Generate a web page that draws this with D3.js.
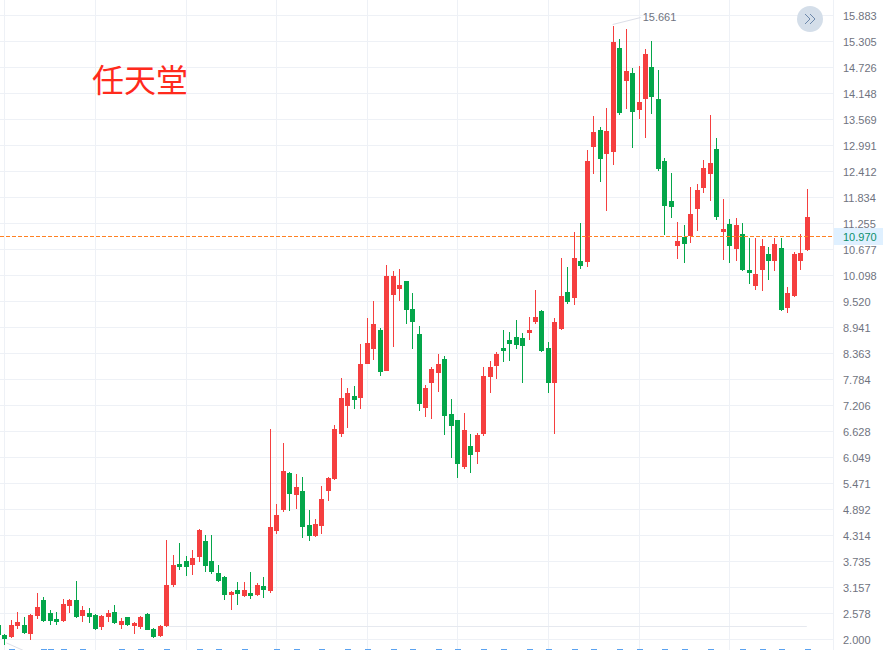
<!DOCTYPE html>
<html>
<head>
<meta charset="utf-8">
<script src="https://cdnjs.cloudflare.com/ajax/libs/d3/7.8.5/d3.min.js"></script>
<style>
html, body { margin: 0; padding: 0; background: #fff; overflow: hidden; }
svg { display: block; }
.price text { font-family: "Liberation Sans", Arial, sans-serif; font-size: 11px; fill: #6f7380; }
</style>
</head>
<body>
<script>
// candles, left to right; the first one is cut off by the left edge
var opens = [2.32,2.10,2.06,2.30,2.32,2.12,2.52,2.88,2.59,2.46,
  2.41,2.75,2.88,2.52,2.59,2.55,2.28,2.50,2.61,2.32,
  2.50,2.30,2.28,2.57,2.23,2.08,2.30,3.21,3.68,3.75,
  3.66,3.84,4.19,3.75,3.48,3.39,2.99,3.10,2.97,3.04,
  2.99,3.19,3.08,4.41,4.88,5.70,5.22,5.30,4.55,4.30,
  4.53,5.30,5.57,6.57,7.20,7.42,7.37,8.13,8.46,8.89,
  7.97,9.66,9.80,9.98,9.35,8.80,7.15,7.71,7.93,8.24,
  7.02,6.88,5.84,6.31,6.17,6.57,7.84,8.09,8.49,8.66,
  8.73,8.71,8.82,9.06,9.31,8.49,7.71,8.91,9.73,9.60,
  10.42,10.40,12.96,13.34,12.80,12.85,15.16,14.43,14.60,13.78,
  14.03,14.74,14.03,12.65,11.76,10.75,10.96,10.98,11.58,12.05,
  12.36,12.91,11.07,11.24,10.69,11.02,10.22,9.87,10.22,10.58,
  10.42,10.71,9.38,9.64,10.42,10.67];
var closes = [2.10,2.01,2.32,2.39,2.15,2.55,2.72,2.41,2.41,2.39,
  2.79,2.88,2.50,2.66,2.50,2.23,2.52,2.59,2.37,2.41,
  2.32,2.37,2.50,2.21,2.06,2.30,3.21,3.66,3.61,3.61,
  3.81,4.44,3.64,3.50,3.30,2.99,3.06,3.01,3.10,2.97,
  3.21,3.10,4.50,4.77,5.75,5.24,5.39,4.50,4.30,4.57,
  5.13,5.59,6.68,7.37,7.48,7.33,8.13,8.60,9.02,7.95,
  10.09,10.09,9.89,9.33,9.06,7.24,7.60,8.02,8.13,6.97,
  6.75,5.90,6.66,6.11,6.55,7.86,8.06,8.35,8.42,8.57,
  8.55,8.53,8.89,9.18,8.42,7.71,9.06,9.64,9.51,10.49,
  10.31,12.65,13.29,12.69,13.31,15.29,13.71,14.65,13.74,13.96,
  15.03,14.07,12.47,11.65,11.62,10.87,10.80,11.47,12.00,12.49,
  12.60,11.40,11.13,10.75,11.22,10.22,10.15,10.13,10.75,10.42,
  10.80,9.33,9.71,10.58,10.60,11.40];
var highs = [2.39,2.12,2.43,2.61,2.50,2.57,3.04,2.95,2.66,2.61,
  2.90,2.90,3.30,2.75,2.70,2.57,2.55,2.66,2.77,2.48,
  2.50,2.39,2.52,2.59,2.26,2.32,4.21,3.88,4.15,3.86,
  3.99,4.46,4.33,4.33,3.66,3.41,3.08,3.28,3.28,3.50,
  3.26,3.39,6.68,5.01,6.37,5.73,5.68,5.62,4.88,4.68,
  5.42,5.62,6.77,7.82,7.60,7.64,8.57,9.15,9.53,8.93,
  10.33,10.20,10.24,9.98,9.71,8.97,7.66,8.06,8.35,8.31,
  7.35,6.88,7.04,6.57,6.59,8.06,8.20,8.40,8.89,8.84,
  9.11,8.82,9.18,9.78,9.33,8.62,9.15,10.49,10.29,11.07,
  11.27,12.89,13.65,13.40,13.83,15.66,15.36,15.58,14.71,14.76,
  15.14,15.32,14.67,12.71,12.38,11.29,11.22,12.07,12.13,12.67,
  13.67,13.16,11.80,11.36,11.38,11.27,10.93,10.93,10.91,10.73,
  10.93,10.93,9.84,10.62,11.02,12.02];
var lows = [2.06,1.88,2.03,2.23,2.12,1.99,2.46,2.39,2.32,2.32,
  2.39,2.59,2.48,2.39,2.37,2.21,2.21,2.39,2.35,2.23,
  2.30,2.12,2.23,2.21,2.03,2.06,2.28,3.17,3.55,3.41,
  3.44,3.72,3.50,3.46,3.28,2.88,2.66,2.77,2.95,2.90,
  2.97,2.92,3.04,4.35,4.84,4.86,4.90,4.26,4.19,4.28,
  4.35,5.08,5.55,6.51,6.71,7.13,7.13,8.13,8.22,7.86,
  7.97,8.51,9.53,9.02,8.46,7.08,6.95,6.91,7.51,6.55,
  6.04,5.59,5.79,5.71,5.90,6.53,7.48,7.80,8.17,8.20,
  8.46,7.71,8.66,9.02,8.40,7.48,6.57,8.89,9.46,9.44,
  10.24,10.29,12.36,12.18,11.53,12.56,13.67,13.80,12.93,13.58,
  13.16,13.69,12.42,11.00,11.38,10.47,10.38,10.82,11.09,11.93,
  11.76,11.33,10.44,10.38,10.42,10.20,9.91,9.78,9.75,10.00,
  10.20,9.31,9.26,9.62,10.22,10.64];

var priceTicks = ["15.883","15.305","14.726","14.148","13.569","12.991","12.412","11.834","11.255","10.677",
  "10.098","9.520","8.941","8.363","7.784","7.206","6.628","6.049","5.471","4.892",
  "4.314","3.735","3.157","2.578","2.000"];
var gridCandles = [1,15,29,43,57,71,85,99,113];
var lastPrice = "10.970";
var peakLabel = "15.661";
var peakCandle = 95;
var lowCandle = 1;
var levelPrice = 2.30;
var levelFrom = 26;
var levelTo = 125;
// blue marks under the chart, only their top row is inside the window
var markCandles = [2,7,8,10,13,19,22,26,31,34,38,43,46,50,54,57,61,64,68,71,75,78,82,85,89,92,96,99,103,106,110,115,118,121,125];

var width = 883;
var height = 650;
var axisX = 833;
var gridColor = "#eef1f6";

var x = d3.scaleLinear().domain([1,125]).range([4.4,806.8]);
var y = d3.scalePoint().domain(priceTicks).range([15.5,639.5]);
var yPrice = d3.scaleLinear().domain([2,15.883]).range([639.5,15.5]);

var svg = d3.select("body").append("svg").attr("width",width).attr("height",height);

// Grid
svg.append("g").selectAll("line").data(priceTicks).enter().append("line")
  .attr("x1",0).attr("x2",axisX)
  .attr("y1",function(d){return y(d);}).attr("y2",function(d){return y(d);})
  .attr("stroke",gridColor);
svg.append("g").selectAll("line").data(gridCandles).enter().append("line")
  .attr("x1",function(d){return Math.round(x(d))+0.5;}).attr("x2",function(d){return Math.round(x(d))+0.5;})
  .attr("y1",0).attr("y2",height)
  .attr("stroke",gridColor);
svg.append("line").attr("x1",axisX+0.5).attr("x2",axisX+0.5).attr("y1",0).attr("y2",height).attr("stroke",gridColor);

// Flat line near the bottom
svg.append("line")
  .attr("x1",x(levelFrom)).attr("x2",x(levelTo))
  .attr("y1",Math.round(yPrice(levelPrice))+0.5).attr("y2",Math.round(yPrice(levelPrice))+0.5)
  .attr("stroke","#e6e9ef");

// Candles
var candles = svg.append("g").selectAll("g").data(opens).enter().append("g");
function candleColor(i){ return closes[i] < opens[i] ? "#04a64a" : "#f53f3f"; }

candles.append("rect")
  .attr("x",function(d,i){return Math.round(x(i));})
  .attr("width",1)
  .attr("y",function(d,i){return Math.round(yPrice(highs[i]));})
  .attr("height",function(d,i){return Math.round(yPrice(lows[i]))-Math.round(yPrice(highs[i]));})
  .attr("fill",function(d,i){return candleColor(i);});
candles.append("rect")
  .attr("x",function(d,i){return Math.round(x(i))-2;})
  .attr("width",5)
  .attr("y",function(d,i){return Math.round(yPrice(Math.max(opens[i],closes[i])));})
  .attr("height",function(d,i){return Math.round(yPrice(Math.min(opens[i],closes[i])))-Math.round(yPrice(Math.max(opens[i],closes[i])));})
  .attr("fill",function(d,i){return candleColor(i);});

// Bottom marks
svg.append("g").selectAll("rect").data(markCandles).enter().append("rect")
  .attr("x",function(d){return Math.round(x(d))-2;})
  .attr("y",649).attr("width",6).attr("height",1)
  .attr("fill","#5aa2f0");

// Leader lines to high and low labels
svg.append("line")
  .attr("x1",x(peakCandle)).attr("y1",yPrice(highs[peakCandle])-1)
  .attr("x2",x(peakCandle)+28).attr("y2",yPrice(highs[peakCandle])-8)
  .attr("stroke","#dcdfe8");
svg.append("line")
  .attr("x1",x(lowCandle)+2).attr("y1",yPrice(lows[lowCandle])-2)
  .attr("x2",x(lowCandle)+20).attr("y2",yPrice(lows[lowCandle])+6)
  .attr("stroke","#dcdfe8");
svg.append("text")
  .attr("x",x(peakCandle)+30).attr("y",yPrice(highs[peakCandle])-5)
  .attr("font-family","Liberation Sans, Arial, sans-serif").attr("font-size",11)
  .attr("fill","#6f7380")
  .text(peakLabel);

// Price axis
var yAxis = d3.axisRight(y).tickSize(0).tickPadding(10);
var axisG = svg.append("g").attr("class","price")
  .attr("transform","translate("+axisX+",0)")
  .call(yAxis);
axisG.select(".domain").remove();

// Last price line and tag
var lastY = Math.round(yPrice(+lastPrice))+0.5;
svg.append("line")
  .attr("x1",0).attr("x2",axisX)
  .attr("y1",lastY).attr("y2",lastY)
  .attr("stroke","#ff8122").attr("stroke-dasharray","4,2");
svg.append("rect")
  .attr("x",axisX+1).attr("y",lastY-8.5).attr("width",width-axisX-1).attr("height",17)
  .attr("fill","#dff0ff");
svg.append("text")
  .attr("x",axisX+10).attr("y",lastY+4)
  .attr("font-family","Liberation Sans, Arial, sans-serif").attr("font-size",11)
  .attr("fill","#0a8f6c")
  .text(lastPrice);

// Collapse button
var button = svg.append("g").attr("transform","translate(810,19)");
button.append("circle").attr("r",13).attr("fill","#d4dee9");
button.selectAll("path").data([-5,0]).enter().append("path")
  .attr("d",function(d){return "M"+d+",-5L"+(d+5)+",0L"+d+",5";})
  .attr("fill","none").attr("stroke","#6c88ab").attr("stroke-width",1);

// Title
svg.append("text")
  .attr("x",92).attr("y",92)
  .attr("font-family","Noto Sans CJK SC, sans-serif").attr("font-size",32)
  .attr("fill","#ff2a1c")
  .text("任天堂");
</script>
</body>
</html>
